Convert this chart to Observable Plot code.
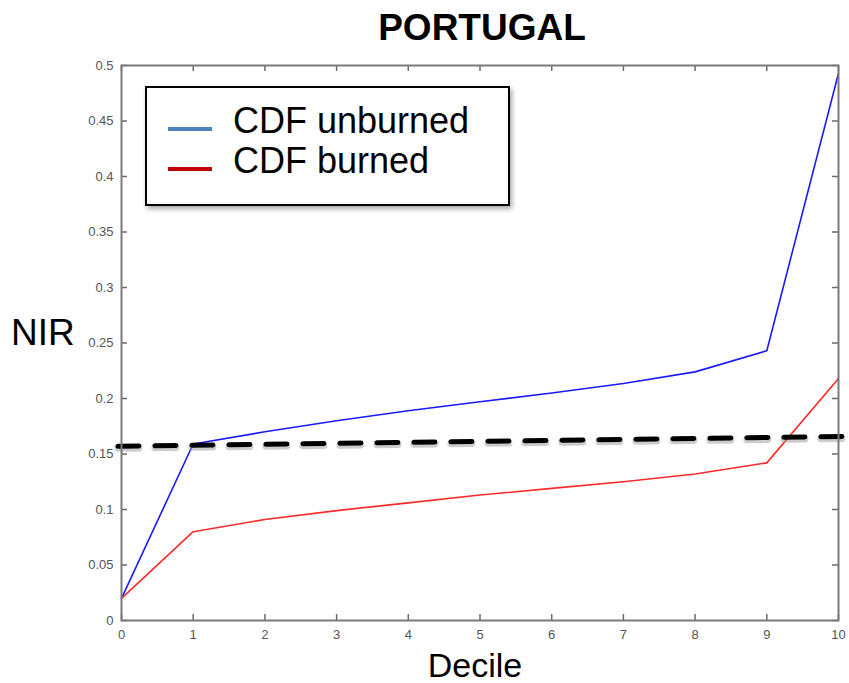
<!DOCTYPE html>
<html>
<head>
<meta charset="utf-8">
<script src="https://cdn.jsdelivr.net/npm/d3@7"></script>
<script src="https://cdn.jsdelivr.net/npm/@observablehq/plot@0.6"></script>
<style>
  body { margin: 0; background: #fff; font-family: "Liberation Sans", Arial, sans-serif; }
  #wrap { position: relative; width: 849px; height: 683px; overflow: hidden; }
  .ov { position: absolute; white-space: nowrap; line-height: 1; }
  #title { left: 0; width: 964px; top: 9px; text-align: center; font-weight: bold; font-size: 37px; color: #000; }
  #ylab { left: 11px; top: 314px; font-size: 37px; color: #000; }
  #xlab { left: 0; width: 950px; top: 648px; text-align: center; font-size: 34px; color: #000; }
  #legend { left: 145px; top: 86px; width: 361px; height: 116px; border: 2px solid #000; background: #fff;
            box-shadow: 2px 3px 5px rgba(0,0,0,0.35); }
  .lg { position: absolute; left: 86px; font-size: 36px; color: #000; }
  .sw { position: absolute; left: 21px; width: 44px; height: 4px; }
</style>
</head>
<body>
<div id="wrap">
  <div id="chart"></div>
  <div class="ov" id="title">PORTUGAL</div>
  <div class="ov" id="ylab">NIR</div>
  <div class="ov" id="xlab">Decile</div>
  <div class="ov" id="legend">
    <div class="sw" style="top:39px;background:#4f81bd"></div>
    <div class="lg" style="top:15px">CDF unburned</div>
    <div class="sw" style="top:79px;background:#c00000"></div>
    <div class="lg" style="top:55px">CDF burned</div>
  </div>
</div>
<script>
const deciles = [0, 1, 2, 3, 4, 5, 6, 7, 8, 9, 10];
const unburned = [0.020, 0.159, 0.170, 0.180, 0.189, 0.197, 0.205, 0.2135, 0.224, 0.243, 0.493];
const burned = [0.020, 0.080, 0.091, 0.099, 0.106, 0.113, 0.119, 0.125, 0.132, 0.142, 0.218];
const thresholdX = [-0.05, 10.2];
const thresholdY = [0.157, 0.166];
const xTicks = [0, 1, 2, 3, 4, 5, 6, 7, 8, 9, 10];
const yTicks = [0, 0.05, 0.1, 0.15, 0.2, 0.25, 0.3, 0.35, 0.4, 0.45, 0.5];

const blueData = deciles.map((d, i) => ({x: d, y: unburned[i]}));
const redData = deciles.map((d, i) => ({x: d, y: burned[i]}));
const thrData = thresholdX.map((d, i) => ({x: d, y: thresholdY[i]}));

const fmt = d => d === 0 ? "0" : String(+d.toFixed(2));
const tickStyle = {stroke: "#6a6a6a", strokeWidth: 1.5};

const plot = Plot.plot({
  width: 849,
  height: 683,
  marginLeft: 121,
  marginRight: 11,
  marginTop: 65,
  marginBottom: 63,
  style: {fontFamily: "'Liberation Sans', Arial, sans-serif", fontSize: "13px", color: "#555", background: "#fff", overflow: "visible"},
  x: {domain: [0, 10]},
  y: {domain: [0, 0.5]},
  marks: [
    // inward tick marks on all four sides
    Plot.ruleX(xTicks, {x: d => d, y1: 0.5, y2: 0, insetTop: 549, ...tickStyle}),
    Plot.ruleX(xTicks, {x: d => d, y1: 0.5, y2: 0, insetBottom: 549, ...tickStyle}),
    Plot.ruleY(yTicks, {y: d => d, x1: 0, x2: 10, insetRight: 711, ...tickStyle}),
    Plot.ruleY(yTicks, {y: d => d, x1: 0, x2: 10, insetLeft: 711, ...tickStyle}),
    Plot.line(blueData, {x: "x", y: "y", stroke: "#1a1aff", strokeWidth: 1.6}),
    Plot.line(redData, {x: "x", y: "y", stroke: "#ff2a2a", strokeWidth: 1.6}),
    Plot.line(thrData, {x: "x", y: "y", stroke: "#999", strokeOpacity: 0.5, strokeWidth: 7, strokeDasharray: "21,16", dy: 2, clip: false}),
    Plot.line(thrData, {x: "x", y: "y", stroke: "#000", strokeWidth: 5, strokeDasharray: "21,16", clip: false}),
    Plot.frame({stroke: "#7a7a7a", strokeWidth: 2}),
    Plot.axisX({ticks: xTicks, tickSize: 0, tickPadding: 9, tickFormat: d => String(d), fill: "#555", label: null}),
    Plot.axisY({ticks: yTicks, tickSize: 0, tickPadding: 8, tickFormat: fmt, fill: "#555", label: null})
  ]
});
document.getElementById("chart").appendChild(plot);
</script>
</body>
</html>
